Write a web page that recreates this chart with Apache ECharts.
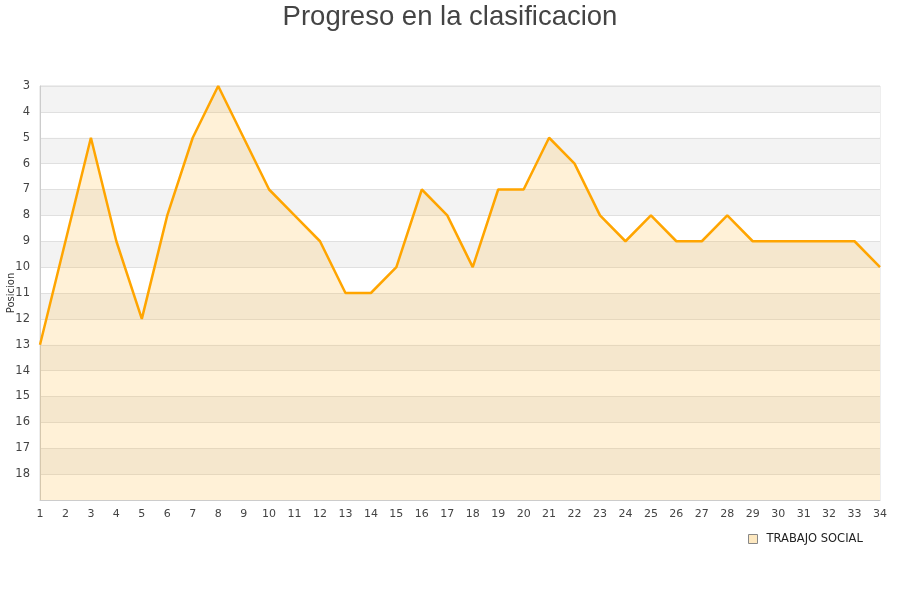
<!DOCTYPE html>
<html><head><meta charset="utf-8">
<script src="https://cdn.jsdelivr.net/npm/echarts@6/dist/echarts.min.js"></script>
<style>html,body{margin:0;padding:0;background:#fff}#c{width:900px;height:600px}</style>
</head><body><div id="c"></div>
<script>
const titleText = 'Progreso en la clasificacion';
const seriesName = 'TRABAJO SOCIAL';
const jornadas = ['1','2','3','4','5','6','7','8','9','10','11','12','13','14','15','16','17','18','19','20','21','22','23','24','25','26','27','28','29','30','31','32','33','34'];
const posiciones = [13,9,5,9,12,8,5,3,5,7,8,9,11,11,10,7,8,10,7,7,5,6,8,9,8,9,9,8,9,9,9,9,9,10];
const yMin = 3, yMax = 19;

const chart = echarts.init(document.getElementById('c'), null, {renderer:'canvas'});
chart.setOption({
  animation:false,
  title:{text:titleText,left:'center',top:-2,textStyle:{fontFamily:'Liberation Sans, Arial, sans-serif',fontSize:27.5,fontWeight:'normal',color:'#444'}},
  grid:{left:40,right:20,top:86,bottom:100,containLabel:false,outerBoundsMode:'none',show:true,borderColor:'#ddd',borderWidth:1,backgroundColor:'transparent'},
  legend:{data:[{name:seriesName,icon:'rect',itemStyle:{color:'#fde8c0',borderColor:'#888',borderWidth:1}}],
    left:743,top:528,itemWidth:9,itemHeight:9,itemGap:6,
    textStyle:{fontFamily:'DejaVu Sans, sans-serif',fontSize:11.5,color:'#222',padding:[0,0,0,4]}},
  xAxis:{type:'category',data:jornadas,boundaryGap:false,
    axisLine:{show:true,lineStyle:{color:'#ccc'}},axisTick:{show:false},
    axisLabel:{color:'#444',fontFamily:'DejaVu Sans, sans-serif',fontSize:11,margin:9,interval:0},
    splitLine:{show:false}},
  yAxis:{type:'value',inverse:true,min:yMin,max:yMax,interval:1,
    name:'Posicion',nameLocation:'middle',nameGap:24,nameRotate:90,nameMoveOverlap:false,
    nameTextStyle:{color:'#333',fontFamily:'DejaVu Sans, sans-serif',fontSize:10},
    axisLine:{show:true,lineStyle:{color:'#ccc'}},axisTick:{show:false},
    axisLabel:{color:'#444',fontFamily:'DejaVu Sans, sans-serif',fontSize:11.5,margin:10,
      formatter:v=> v===yMax ? '' : String(v)},
    splitLine:{show:true,lineStyle:{color:'#e0e0e0',width:1}},
    splitArea:{show:true,areaStyle:{color:['#f3f3f3','#ffffff']}}},
  series:[{name:seriesName,type:'line',data:posiciones,symbol:'none',smooth:false,
    itemStyle:{color:'#fde8c0'},
    lineStyle:{color:'#FFA500',width:2.5},
    areaStyle:{color:'rgba(253,185,50,0.28)',origin:'end'}}]
});
</script></body></html>
